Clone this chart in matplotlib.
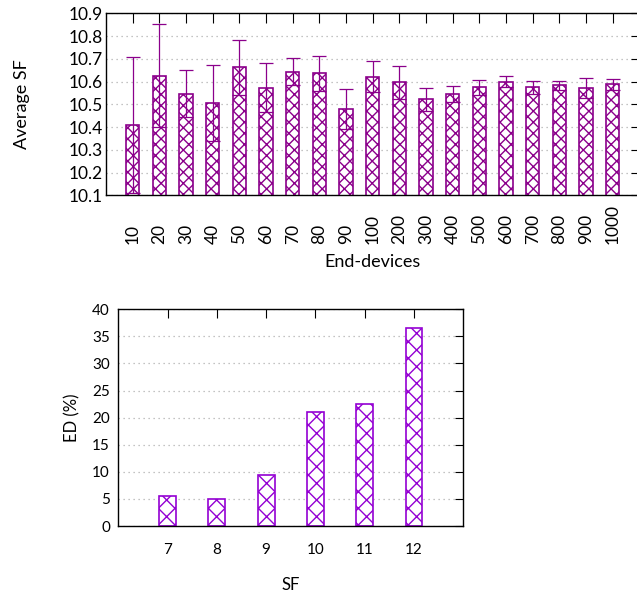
import numpy as np
import matplotlib
matplotlib.use("Agg")
import matplotlib.pyplot as plt

plt.rcParams['font.family'] = ['Lato', 'DejaVu Sans']
plt.rcParams['hatch.linewidth'] = 1.0

# Верхний график: средний SF по числу устройств
devices = ['10', '20', '30', '40', '50', '60', '70', '80', '90', '100',
           '200', '300', '400', '500', '600', '700', '800', '900', '1000']
avg_sf = [10.41, 10.626, 10.547, 10.506, 10.663, 10.573, 10.644, 10.636, 10.478, 10.622,
          10.597, 10.522, 10.547, 10.575, 10.600, 10.575, 10.584, 10.573, 10.589]
avg_err = [0.30, 0.227, 0.105, 0.168, 0.121, 0.107, 0.061, 0.078, 0.088, 0.070,
           0.073, 0.051, 0.035, 0.033, 0.026, 0.028, 0.020, 0.044, 0.024]

# Нижний график: доля устройств по SF
sf_values = [7, 8, 9, 10, 11, 12]
ed_percent = [5.5, 4.9, 9.35, 21.1, 22.6, 36.6]

W, H = 637, 598
fig = plt.figure(figsize=(W / 100, H / 100), dpi=100)


def px_axes(left, top, right, bottom):
    return fig.add_axes([left / W, 1 - bottom / H, (right - left) / W, (bottom - top) / H])


grid_style = dict(color='#b0b0b0', linestyle=(0, (1, 3)), linewidth=0.9)

# --- верхний график ---
ax1 = px_axes(106, 13.3, 639.4, 195.3)
x1 = np.arange(len(devices))
ax1.bar(x1, avg_sf, width=0.5, color='white', edgecolor='#8b008b',
        hatch='xxx', linewidth=1.2, zorder=2)
ax1.errorbar(x1, avg_sf, yerr=avg_err, fmt='none', ecolor='#8b008b',
             elinewidth=0.9, capsize=4.7, capthick=0.9, zorder=3)
ax1.set_xlim(-1, 19)
ax1.set_ylim(10.1, 10.9)
ax1.set_yticks(np.arange(10.1, 10.91, 0.1))
ax1.set_yticklabels([f'{v:.1f}' for v in np.arange(10.1, 10.91, 0.1)], fontsize=12.5)
ax1.set_xticks(x1)
ax1.set_xticklabels(devices, rotation=90, ha='center', va='bottom', fontsize=12.5)
ax1.tick_params(axis='x', direction='in', top=True, bottom=False, length=7, pad=35)
ax1.tick_params(axis='y', direction='in', left=False, right=True, length=6, pad=2)
ax1.yaxis.grid(True, **grid_style)
ax1.set_axisbelow(True)
ax1.set_ylabel('Average SF', fontsize=13)
ax1.yaxis.set_label_coords(30 / W, 1 - 104.3 / H, transform=fig.transFigure)
ax1.set_xlabel('End-devices', fontsize=13)
ax1.xaxis.set_label_coords(372 / W, 1 - 254 / H, transform=fig.transFigure)

# --- нижний график ---
ax2 = px_axes(118.3, 309.3, 463.3, 526)
ax2.bar(sf_values, ed_percent, width=0.34, color='white', edgecolor='#9400d3',
        hatch='xx', linewidth=1.2, zorder=2)
ax2.set_xlim(6, 13)
ax2.set_ylim(0, 40)
ax2.set_yticks(np.arange(0, 41, 5))
ax2.set_xticks(sf_values)
ax2.tick_params(labelsize=11)
ax2.tick_params(axis='x', direction='in', top=True, bottom=False, length=6.5, pad=12)
ax2.tick_params(axis='y', direction='in', left=False, right=True, length=6, pad=6)
ax2.yaxis.grid(True, **grid_style)
ax2.set_axisbelow(True)
ax2.set_ylabel('ED (%)', fontsize=12)
ax2.yaxis.set_label_coords(80 / W, 1 - 417.7 / H, transform=fig.transFigure)
ax2.set_xlabel('SF', fontsize=12)
ax2.xaxis.set_label_coords(290.8 / W, 1 - 577 / H, transform=fig.transFigure)

for ax in (ax1, ax2):
    for sp in ax.spines.values():
        sp.set_linewidth(1.0)

fig.savefig('out.png', dpi=100)
